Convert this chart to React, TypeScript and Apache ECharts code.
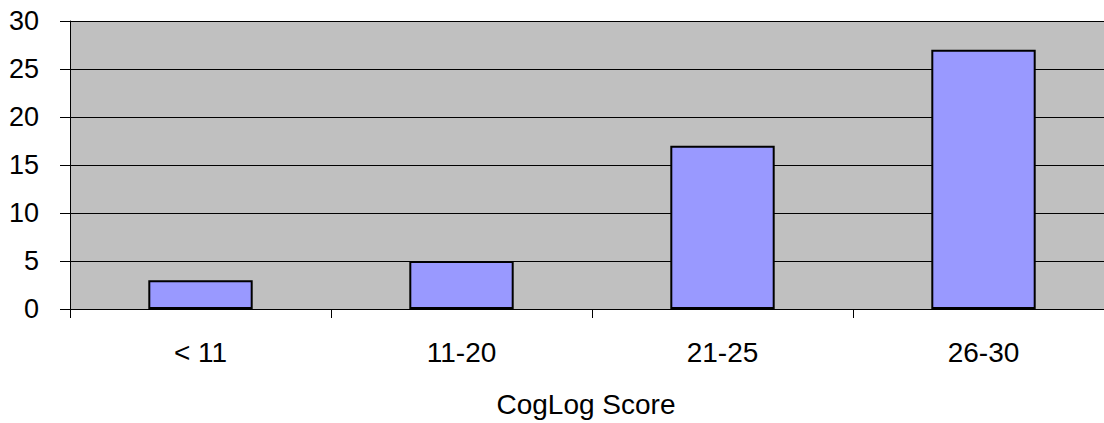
import React, { useEffect, useRef } from "react";
import * as echarts from "echarts";

// Score bands and how many records fall in each
const categories: string[] = ["< 11", "11-20", "21-25", "26-30"];
const counts: number[] = [3, 5, 17, 27];

// Value axis range
const yMin = 0;
const yMax = 30;
const yStep = 5;

const FONT = "'Liberation Sans', Arial, sans-serif";

export default function App() {
  const ref = useRef<HTMLDivElement>(null);

  useEffect(() => {
    if (!ref.current) return;
    const chart = echarts.init(ref.current, undefined, { renderer: "svg" });
    chart.setOption({
      animation: false,
      backgroundColor: "#ffffff",
      textStyle: { fontFamily: FONT, color: "#000" },
      grid: {
        left: 70,
        top: 21,
        right: -10,
        bottom: 114,
        outerBoundsMode: "none",
        containLabel: false,
        show: true,
        backgroundColor: "#c0c0c0",
        borderWidth: 0,
      },
      xAxis: {
        type: "category",
        data: categories,
        boundaryGap: true,
        name: "CogLog Score",
        nameLocation: "middle",
        nameGap: 81,
        nameTextStyle: {
          fontSize: 28,
          color: "#000",
          fontFamily: FONT,
          padding: [0, 12, 0, 0],
        },
        axisLine: { show: true, lineStyle: { color: "#000", width: 1 } },
        axisTick: {
          show: true,
          interval: 0,
          alignWithLabel: false,
          length: 9,
          lineStyle: { color: "#000" },
        },
        axisLabel: {
          interval: 0,
          margin: 29,
          fontSize: 28,
          color: "#000",
          fontFamily: FONT,
        },
        splitLine: { show: false },
      },
      yAxis: {
        type: "value",
        min: yMin,
        max: yMax,
        interval: yStep,
        axisLine: { show: true, lineStyle: { color: "#000", width: 1 } },
        axisTick: { show: true, length: 10, lineStyle: { color: "#000" } },
        axisLabel: {
          margin: 31,
          fontSize: 27,
          color: "#000",
          fontFamily: FONT,
        },
        splitLine: { show: true, lineStyle: { color: "#000", width: 1 } },
      },
      series: [
        {
          type: "bar",
          data: counts,
          barWidth: "40%",
          itemStyle: {
            color: "#9999ff",
            borderColor: "#000",
            borderWidth: 2,
          },
        },
      ],
    });
    return () => chart.dispose();
  }, []);

  return (
    <div
      ref={ref}
      style={{ position: "fixed", left: 0, top: 0, width: 1104, height: 423 }}
    />
  );
}
